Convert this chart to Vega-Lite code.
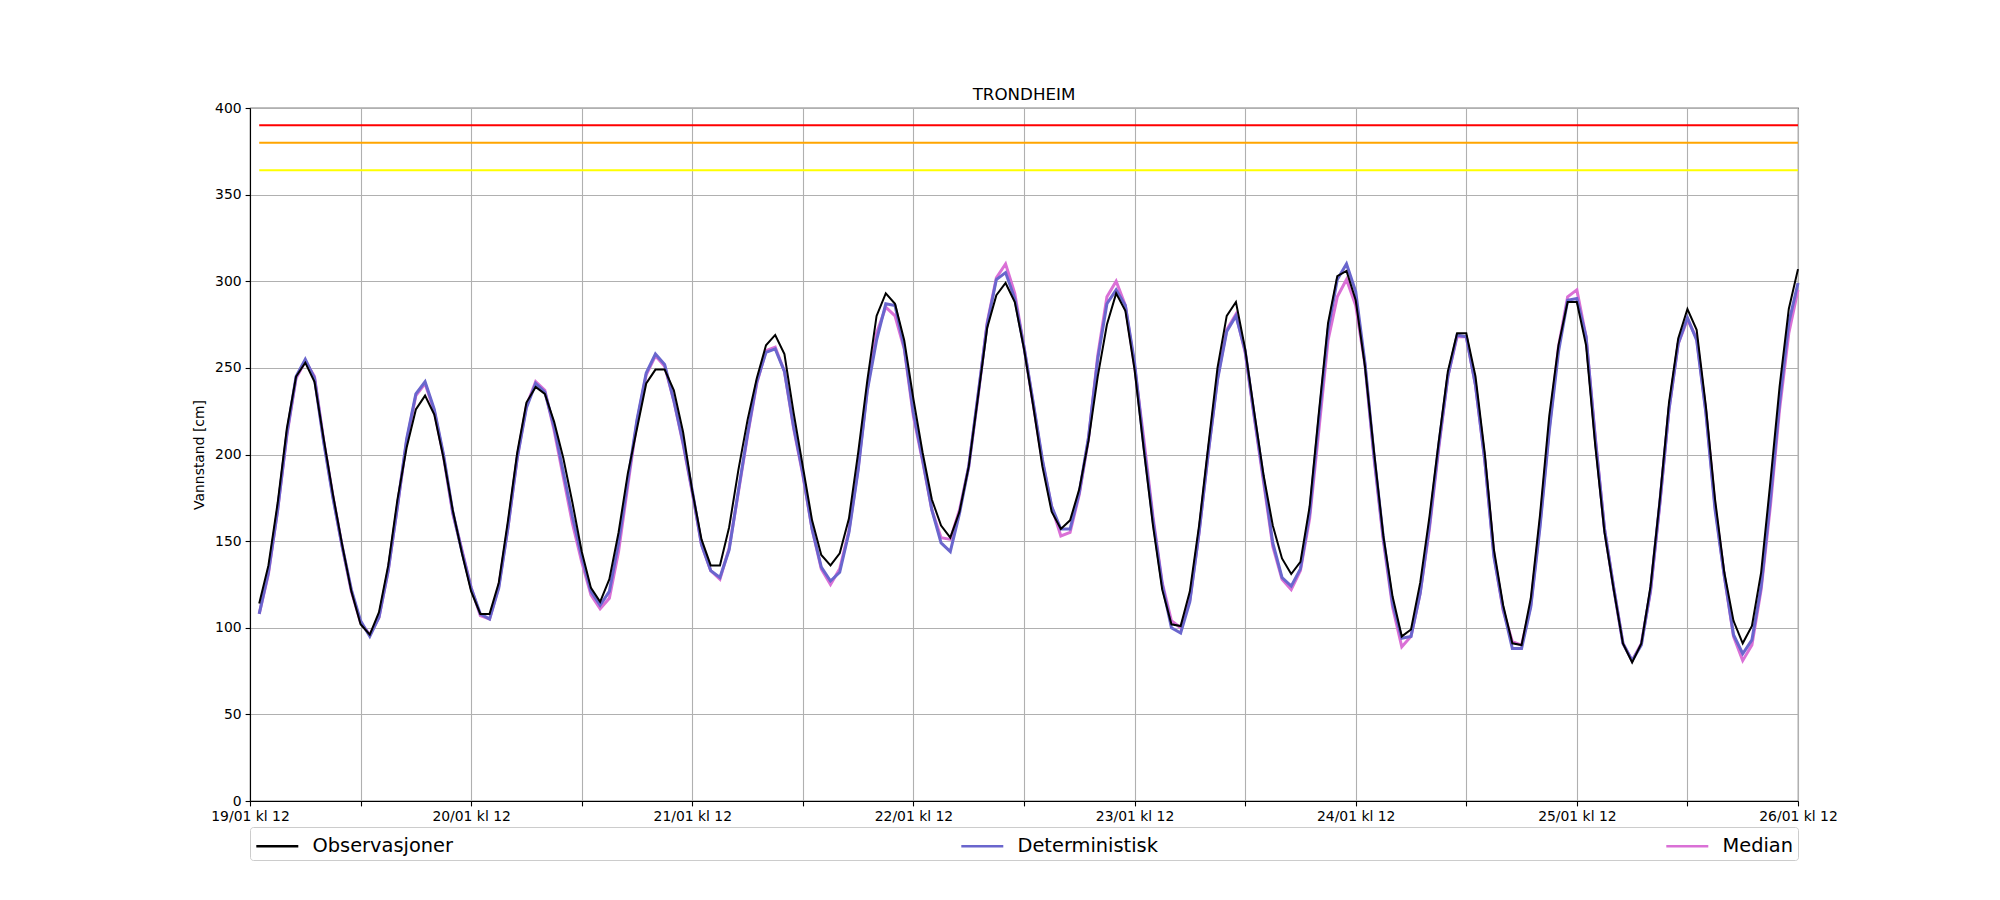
{
  "$schema": "https://vega.github.io/schema/vega-lite/v6.json",
  "width": 1548,
  "height": 693,
  "autosize": {"type": "none"},
  "padding": {"left": 250, "top": 108, "right": 202, "bottom": 99},
  "background": "white",
  "title": {
    "text": "TRONDHEIM",
    "font": "DejaVu Sans",
    "fontSize": 16.7,
    "fontWeight": "normal",
    "color": "black",
    "anchor": "middle",
    "offset": -3
  },
  "config": {
    "view": {"stroke": "black", "strokeWidth": 1.1},
    "axis": {
      "labelFont": "DejaVu Sans",
      "labelFontSize": 13.9,
      "labelColor": "black",
      "titleFont": "DejaVu Sans",
      "titleFontSize": 13.9,
      "titleFontWeight": "normal",
      "titleColor": "black",
      "domainColor": "black",
      "domainWidth": 1.1,
      "tickColor": "black",
      "tickWidth": 1.1,
      "tickSize": 4.9,
      "labelPadding": 4,
      "gridColor": "#b0b0b0",
      "gridWidth": 1.1
    }
  },
  "datasets": {
    "vannstand": [
      {"t": "2024-01-19T13:00", "Observasjoner": 114, "Deterministisk": 108, "Median": 108},
      {"t": "2024-01-19T14:00", "Observasjoner": 136, "Deterministisk": 132, "Median": 131},
      {"t": "2024-01-19T15:00", "Observasjoner": 172, "Deterministisk": 168, "Median": 168},
      {"t": "2024-01-19T16:00", "Observasjoner": 215, "Deterministisk": 212, "Median": 211},
      {"t": "2024-01-19T17:00", "Observasjoner": 245, "Deterministisk": 245, "Median": 244},
      {"t": "2024-01-19T18:00", "Observasjoner": 253, "Deterministisk": 255, "Median": 254},
      {"t": "2024-01-19T19:00", "Observasjoner": 242, "Deterministisk": 244, "Median": 245},
      {"t": "2024-01-19T20:00", "Observasjoner": 209, "Deterministisk": 207, "Median": 208},
      {"t": "2024-01-19T21:00", "Observasjoner": 177, "Deterministisk": 175, "Median": 176},
      {"t": "2024-01-19T22:00", "Observasjoner": 148, "Deterministisk": 147, "Median": 147},
      {"t": "2024-01-19T23:00", "Observasjoner": 121, "Deterministisk": 122, "Median": 121},
      {"t": "2024-01-20T00:00", "Observasjoner": 102, "Deterministisk": 104, "Median": 103},
      {"t": "2024-01-20T01:00", "Observasjoner": 96, "Deterministisk": 95, "Median": 96},
      {"t": "2024-01-20T02:00", "Observasjoner": 109, "Deterministisk": 106, "Median": 106},
      {"t": "2024-01-20T03:00", "Observasjoner": 136, "Deterministisk": 133, "Median": 133},
      {"t": "2024-01-20T04:00", "Observasjoner": 174, "Deterministisk": 170, "Median": 170},
      {"t": "2024-01-20T05:00", "Observasjoner": 204, "Deterministisk": 209, "Median": 208},
      {"t": "2024-01-20T06:00", "Observasjoner": 226, "Deterministisk": 235, "Median": 234},
      {"t": "2024-01-20T07:00", "Observasjoner": 234, "Deterministisk": 242, "Median": 241},
      {"t": "2024-01-20T08:00", "Observasjoner": 223, "Deterministisk": 226, "Median": 225},
      {"t": "2024-01-20T09:00", "Observasjoner": 198, "Deterministisk": 200, "Median": 199},
      {"t": "2024-01-20T10:00", "Observasjoner": 168, "Deterministisk": 167, "Median": 166},
      {"t": "2024-01-20T11:00", "Observasjoner": 143, "Deterministisk": 144, "Median": 145},
      {"t": "2024-01-20T12:00", "Observasjoner": 121, "Deterministisk": 123, "Median": 123},
      {"t": "2024-01-20T13:00", "Observasjoner": 108, "Deterministisk": 108, "Median": 107},
      {"t": "2024-01-20T14:00", "Observasjoner": 108, "Deterministisk": 105, "Median": 105},
      {"t": "2024-01-20T15:00", "Observasjoner": 126, "Deterministisk": 123, "Median": 124},
      {"t": "2024-01-20T16:00", "Observasjoner": 162, "Deterministisk": 158, "Median": 158},
      {"t": "2024-01-20T17:00", "Observasjoner": 201, "Deterministisk": 198, "Median": 198},
      {"t": "2024-01-20T18:00", "Observasjoner": 230, "Deterministisk": 227, "Median": 228},
      {"t": "2024-01-20T19:00", "Observasjoner": 239, "Deterministisk": 241, "Median": 242},
      {"t": "2024-01-20T20:00", "Observasjoner": 235, "Deterministisk": 236, "Median": 237},
      {"t": "2024-01-20T21:00", "Observasjoner": 219, "Deterministisk": 216, "Median": 214},
      {"t": "2024-01-20T22:00", "Observasjoner": 198, "Deterministisk": 190, "Median": 187},
      {"t": "2024-01-20T23:00", "Observasjoner": 172, "Deterministisk": 164, "Median": 160},
      {"t": "2024-01-21T00:00", "Observasjoner": 144, "Deterministisk": 141, "Median": 138},
      {"t": "2024-01-21T01:00", "Observasjoner": 123, "Deterministisk": 121, "Median": 119},
      {"t": "2024-01-21T02:00", "Observasjoner": 115, "Deterministisk": 113, "Median": 111},
      {"t": "2024-01-21T03:00", "Observasjoner": 128, "Deterministisk": 121, "Median": 117},
      {"t": "2024-01-21T04:00", "Observasjoner": 155, "Deterministisk": 149, "Median": 144},
      {"t": "2024-01-21T05:00", "Observasjoner": 189, "Deterministisk": 185, "Median": 182},
      {"t": "2024-01-21T06:00", "Observasjoner": 215, "Deterministisk": 220, "Median": 219},
      {"t": "2024-01-21T07:00", "Observasjoner": 241, "Deterministisk": 247, "Median": 246},
      {"t": "2024-01-21T08:00", "Observasjoner": 249, "Deterministisk": 258, "Median": 257},
      {"t": "2024-01-21T09:00", "Observasjoner": 249, "Deterministisk": 252, "Median": 251},
      {"t": "2024-01-21T10:00", "Observasjoner": 237, "Deterministisk": 231, "Median": 231},
      {"t": "2024-01-21T11:00", "Observasjoner": 213, "Deterministisk": 207, "Median": 206},
      {"t": "2024-01-21T12:00", "Observasjoner": 179, "Deterministisk": 179, "Median": 178},
      {"t": "2024-01-21T13:00", "Observasjoner": 151, "Deterministisk": 148, "Median": 148},
      {"t": "2024-01-21T14:00", "Observasjoner": 136, "Deterministisk": 133, "Median": 133},
      {"t": "2024-01-21T15:00", "Observasjoner": 136, "Deterministisk": 129, "Median": 128},
      {"t": "2024-01-21T16:00", "Observasjoner": 158, "Deterministisk": 145, "Median": 146},
      {"t": "2024-01-21T17:00", "Observasjoner": 191, "Deterministisk": 179, "Median": 178},
      {"t": "2024-01-21T18:00", "Observasjoner": 220, "Deterministisk": 212, "Median": 211},
      {"t": "2024-01-21T19:00", "Observasjoner": 244, "Deterministisk": 242, "Median": 241},
      {"t": "2024-01-21T20:00", "Observasjoner": 263, "Deterministisk": 259, "Median": 260},
      {"t": "2024-01-21T21:00", "Observasjoner": 269, "Deterministisk": 261, "Median": 262},
      {"t": "2024-01-21T22:00", "Observasjoner": 258, "Deterministisk": 248, "Median": 248},
      {"t": "2024-01-21T23:00", "Observasjoner": 224, "Deterministisk": 216, "Median": 215},
      {"t": "2024-01-22T00:00", "Observasjoner": 193, "Deterministisk": 189, "Median": 188},
      {"t": "2024-01-22T01:00", "Observasjoner": 162, "Deterministisk": 157, "Median": 157},
      {"t": "2024-01-22T02:00", "Observasjoner": 142, "Deterministisk": 135, "Median": 134},
      {"t": "2024-01-22T03:00", "Observasjoner": 136, "Deterministisk": 127, "Median": 125},
      {"t": "2024-01-22T04:00", "Observasjoner": 143, "Deterministisk": 132, "Median": 134},
      {"t": "2024-01-22T05:00", "Observasjoner": 163, "Deterministisk": 155, "Median": 156},
      {"t": "2024-01-22T06:00", "Observasjoner": 201, "Deterministisk": 191, "Median": 192},
      {"t": "2024-01-22T07:00", "Observasjoner": 243, "Deterministisk": 237, "Median": 238},
      {"t": "2024-01-22T08:00", "Observasjoner": 280, "Deterministisk": 266, "Median": 270},
      {"t": "2024-01-22T09:00", "Observasjoner": 293, "Deterministisk": 287, "Median": 285},
      {"t": "2024-01-22T10:00", "Observasjoner": 287, "Deterministisk": 286, "Median": 280},
      {"t": "2024-01-22T11:00", "Observasjoner": 266, "Deterministisk": 262, "Median": 261},
      {"t": "2024-01-22T12:00", "Observasjoner": 232, "Deterministisk": 224, "Median": 222},
      {"t": "2024-01-22T13:00", "Observasjoner": 201, "Deterministisk": 197, "Median": 196},
      {"t": "2024-01-22T14:00", "Observasjoner": 174, "Deterministisk": 168, "Median": 168},
      {"t": "2024-01-22T15:00", "Observasjoner": 159, "Deterministisk": 149, "Median": 152},
      {"t": "2024-01-22T16:00", "Observasjoner": 152, "Deterministisk": 144, "Median": 151},
      {"t": "2024-01-22T17:00", "Observasjoner": 167, "Deterministisk": 166, "Median": 168},
      {"t": "2024-01-22T18:00", "Observasjoner": 193, "Deterministisk": 193, "Median": 193},
      {"t": "2024-01-22T19:00", "Observasjoner": 233, "Deterministisk": 234, "Median": 233},
      {"t": "2024-01-22T20:00", "Observasjoner": 273, "Deterministisk": 275, "Median": 276},
      {"t": "2024-01-22T21:00", "Observasjoner": 292, "Deterministisk": 301, "Median": 302},
      {"t": "2024-01-22T22:00", "Observasjoner": 299, "Deterministisk": 305, "Median": 310},
      {"t": "2024-01-22T23:00", "Observasjoner": 288, "Deterministisk": 290, "Median": 293},
      {"t": "2024-01-23T00:00", "Observasjoner": 261, "Deterministisk": 262, "Median": 262},
      {"t": "2024-01-23T01:00", "Observasjoner": 228, "Deterministisk": 230, "Median": 229},
      {"t": "2024-01-23T02:00", "Observasjoner": 193, "Deterministisk": 197, "Median": 196},
      {"t": "2024-01-23T03:00", "Observasjoner": 167, "Deterministisk": 170, "Median": 170},
      {"t": "2024-01-23T04:00", "Observasjoner": 157, "Deterministisk": 157, "Median": 153},
      {"t": "2024-01-23T05:00", "Observasjoner": 162, "Deterministisk": 157, "Median": 155},
      {"t": "2024-01-23T06:00", "Observasjoner": 180, "Deterministisk": 178, "Median": 177},
      {"t": "2024-01-23T07:00", "Observasjoner": 208, "Deterministisk": 210, "Median": 209},
      {"t": "2024-01-23T08:00", "Observasjoner": 245, "Deterministisk": 255, "Median": 257},
      {"t": "2024-01-23T09:00", "Observasjoner": 275, "Deterministisk": 287, "Median": 291},
      {"t": "2024-01-23T10:00", "Observasjoner": 293, "Deterministisk": 295, "Median": 300},
      {"t": "2024-01-23T11:00", "Observasjoner": 283, "Deterministisk": 286, "Median": 286},
      {"t": "2024-01-23T12:00", "Observasjoner": 249, "Deterministisk": 253, "Median": 251},
      {"t": "2024-01-23T13:00", "Observasjoner": 203, "Deterministisk": 205, "Median": 209},
      {"t": "2024-01-23T14:00", "Observasjoner": 159, "Deterministisk": 162, "Median": 164},
      {"t": "2024-01-23T15:00", "Observasjoner": 122, "Deterministisk": 125, "Median": 126},
      {"t": "2024-01-23T16:00", "Observasjoner": 102, "Deterministisk": 100, "Median": 104},
      {"t": "2024-01-23T17:00", "Observasjoner": 101, "Deterministisk": 97, "Median": 100},
      {"t": "2024-01-23T18:00", "Observasjoner": 121, "Deterministisk": 115, "Median": 116},
      {"t": "2024-01-23T19:00", "Observasjoner": 159, "Deterministisk": 155, "Median": 155},
      {"t": "2024-01-23T20:00", "Observasjoner": 205, "Deterministisk": 201, "Median": 201},
      {"t": "2024-01-23T21:00", "Observasjoner": 250, "Deterministisk": 243, "Median": 244},
      {"t": "2024-01-23T22:00", "Observasjoner": 280, "Deterministisk": 271, "Median": 272},
      {"t": "2024-01-23T23:00", "Observasjoner": 288, "Deterministisk": 280, "Median": 281},
      {"t": "2024-01-24T00:00", "Observasjoner": 261, "Deterministisk": 260, "Median": 259},
      {"t": "2024-01-24T01:00", "Observasjoner": 224, "Deterministisk": 222, "Median": 221},
      {"t": "2024-01-24T02:00", "Observasjoner": 188, "Deterministisk": 186, "Median": 184},
      {"t": "2024-01-24T03:00", "Observasjoner": 159, "Deterministisk": 149, "Median": 147},
      {"t": "2024-01-24T04:00", "Observasjoner": 140, "Deterministisk": 129, "Median": 128},
      {"t": "2024-01-24T05:00", "Observasjoner": 131, "Deterministisk": 124, "Median": 122},
      {"t": "2024-01-24T06:00", "Observasjoner": 138, "Deterministisk": 134, "Median": 133},
      {"t": "2024-01-24T07:00", "Observasjoner": 170, "Deterministisk": 166, "Median": 163},
      {"t": "2024-01-24T08:00", "Observasjoner": 224, "Deterministisk": 220, "Median": 214},
      {"t": "2024-01-24T09:00", "Observasjoner": 276, "Deterministisk": 272, "Median": 266},
      {"t": "2024-01-24T10:00", "Observasjoner": 303, "Deterministisk": 301, "Median": 291},
      {"t": "2024-01-24T11:00", "Observasjoner": 306, "Deterministisk": 310, "Median": 301},
      {"t": "2024-01-24T12:00", "Observasjoner": 289, "Deterministisk": 294, "Median": 286},
      {"t": "2024-01-24T13:00", "Observasjoner": 251, "Deterministisk": 253, "Median": 252},
      {"t": "2024-01-24T14:00", "Observasjoner": 201, "Deterministisk": 199, "Median": 197},
      {"t": "2024-01-24T15:00", "Observasjoner": 153, "Deterministisk": 152, "Median": 150},
      {"t": "2024-01-24T16:00", "Observasjoner": 118, "Deterministisk": 114, "Median": 112},
      {"t": "2024-01-24T17:00", "Observasjoner": 95, "Deterministisk": 94, "Median": 89},
      {"t": "2024-01-24T18:00", "Observasjoner": 99, "Deterministisk": 95, "Median": 95},
      {"t": "2024-01-24T19:00", "Observasjoner": 126, "Deterministisk": 120, "Median": 120},
      {"t": "2024-01-24T20:00", "Observasjoner": 164, "Deterministisk": 159, "Median": 157},
      {"t": "2024-01-24T21:00", "Observasjoner": 207, "Deterministisk": 205, "Median": 203},
      {"t": "2024-01-24T22:00", "Observasjoner": 248, "Deterministisk": 245, "Median": 245},
      {"t": "2024-01-24T23:00", "Observasjoner": 270, "Deterministisk": 269, "Median": 268},
      {"t": "2024-01-25T00:00", "Observasjoner": 270, "Deterministisk": 268, "Median": 268},
      {"t": "2024-01-25T01:00", "Observasjoner": 245, "Deterministisk": 240, "Median": 240},
      {"t": "2024-01-25T02:00", "Observasjoner": 201, "Deterministisk": 197, "Median": 197},
      {"t": "2024-01-25T03:00", "Observasjoner": 145, "Deterministisk": 141, "Median": 142},
      {"t": "2024-01-25T04:00", "Observasjoner": 113, "Deterministisk": 111, "Median": 110},
      {"t": "2024-01-25T05:00", "Observasjoner": 91, "Deterministisk": 88, "Median": 92},
      {"t": "2024-01-25T06:00", "Observasjoner": 90, "Deterministisk": 88, "Median": 90},
      {"t": "2024-01-25T07:00", "Observasjoner": 117, "Deterministisk": 112, "Median": 113},
      {"t": "2024-01-25T08:00", "Observasjoner": 165, "Deterministisk": 158, "Median": 160},
      {"t": "2024-01-25T09:00", "Observasjoner": 222, "Deterministisk": 213, "Median": 215},
      {"t": "2024-01-25T10:00", "Observasjoner": 263, "Deterministisk": 259, "Median": 262},
      {"t": "2024-01-25T11:00", "Observasjoner": 288, "Deterministisk": 289, "Median": 291},
      {"t": "2024-01-25T12:00", "Observasjoner": 288, "Deterministisk": 290, "Median": 295},
      {"t": "2024-01-25T13:00", "Observasjoner": 263, "Deterministisk": 268, "Median": 268},
      {"t": "2024-01-25T14:00", "Observasjoner": 205, "Deterministisk": 209, "Median": 210},
      {"t": "2024-01-25T15:00", "Observasjoner": 155, "Deterministisk": 157, "Median": 157},
      {"t": "2024-01-25T16:00", "Observasjoner": 122, "Deterministisk": 123, "Median": 123},
      {"t": "2024-01-25T17:00", "Observasjoner": 91, "Deterministisk": 91, "Median": 91},
      {"t": "2024-01-25T18:00", "Observasjoner": 80, "Deterministisk": 81, "Median": 81},
      {"t": "2024-01-25T19:00", "Observasjoner": 91, "Deterministisk": 90, "Median": 91},
      {"t": "2024-01-25T20:00", "Observasjoner": 124, "Deterministisk": 122, "Median": 121},
      {"t": "2024-01-25T21:00", "Observasjoner": 174, "Deterministisk": 172, "Median": 171},
      {"t": "2024-01-25T22:00", "Observasjoner": 230, "Deterministisk": 226, "Median": 226},
      {"t": "2024-01-25T23:00", "Observasjoner": 267, "Deterministisk": 264, "Median": 264},
      {"t": "2024-01-26T00:00", "Observasjoner": 284, "Deterministisk": 279, "Median": 278},
      {"t": "2024-01-26T01:00", "Observasjoner": 272, "Deterministisk": 266, "Median": 267},
      {"t": "2024-01-26T02:00", "Observasjoner": 228, "Deterministisk": 224, "Median": 225},
      {"t": "2024-01-26T03:00", "Observasjoner": 174, "Deterministisk": 168, "Median": 170},
      {"t": "2024-01-26T04:00", "Observasjoner": 132, "Deterministisk": 130, "Median": 130},
      {"t": "2024-01-26T05:00", "Observasjoner": 104, "Deterministisk": 96, "Median": 95},
      {"t": "2024-01-26T06:00", "Observasjoner": 91, "Deterministisk": 85, "Median": 81},
      {"t": "2024-01-26T07:00", "Observasjoner": 101, "Deterministisk": 93, "Median": 90},
      {"t": "2024-01-26T08:00", "Observasjoner": 132, "Deterministisk": 124, "Median": 122},
      {"t": "2024-01-26T09:00", "Observasjoner": 184, "Deterministisk": 174, "Median": 170},
      {"t": "2024-01-26T10:00", "Observasjoner": 239, "Deterministisk": 230, "Median": 226},
      {"t": "2024-01-26T11:00", "Observasjoner": 284, "Deterministisk": 276, "Median": 270},
      {"t": "2024-01-26T12:00", "Observasjoner": 307, "Deterministisk": 299, "Median": 295}
    ],
    "nivaa": [
      {"nivaa": "rødt", "cm": 390, "fra": "2024-01-19T13:00", "til": "2024-01-26T12:00"},
      {"nivaa": "oransje", "cm": 380, "fra": "2024-01-19T13:00", "til": "2024-01-26T12:00"},
      {"nivaa": "gult", "cm": 364, "fra": "2024-01-19T13:00", "til": "2024-01-26T12:00"}
    ]
  },
  "layer": [
    {
      "data": {"name": "nivaa"},
      "mark": {"type": "rule", "strokeWidth": 2},
      "encoding": {
        "x": {"field": "fra", "type": "temporal"},
        "x2": {"field": "til"},
        "y": {"field": "cm", "type": "quantitative"},
        "stroke": {
          "field": "nivaa",
          "type": "nominal",
          "scale": {"domain": ["rødt", "oransje", "gult"], "range": ["#ff0000", "#ffa500", "#ffff00"]},
          "legend": null
        }
      }
    },
    {
      "data": {"name": "vannstand"},
      "transform": [
        {"fold": ["Median", "Deterministisk", "Observasjoner"], "as": ["serie", "verdi"]}
      ],
      "mark": {"type": "line"},
      "encoding": {
        "x": {
          "field": "t",
          "type": "temporal",
          "title": null,
          "scale": {
            "domain": [
              {"year": 2024, "month": 1, "date": 19, "hours": 12},
              {"year": 2024, "month": 1, "date": 26, "hours": 12}
            ],
            "nice": false
          },
          "axis": {
            "values": [
              {"year": 2024, "month": 1, "date": 19, "hours": 12},
              {"year": 2024, "month": 1, "date": 20, "hours": 0},
              {"year": 2024, "month": 1, "date": 20, "hours": 12},
              {"year": 2024, "month": 1, "date": 21, "hours": 0},
              {"year": 2024, "month": 1, "date": 21, "hours": 12},
              {"year": 2024, "month": 1, "date": 22, "hours": 0},
              {"year": 2024, "month": 1, "date": 22, "hours": 12},
              {"year": 2024, "month": 1, "date": 23, "hours": 0},
              {"year": 2024, "month": 1, "date": 23, "hours": 12},
              {"year": 2024, "month": 1, "date": 24, "hours": 0},
              {"year": 2024, "month": 1, "date": 24, "hours": 12},
              {"year": 2024, "month": 1, "date": 25, "hours": 0},
              {"year": 2024, "month": 1, "date": 25, "hours": 12},
              {"year": 2024, "month": 1, "date": 26, "hours": 0},
              {"year": 2024, "month": 1, "date": 26, "hours": 12}
            ],
            "labelExpr": "hours(datum.value) == 12 ? timeFormat(datum.value, '%d/%m kl %H') : ''",
            "labelFlush": false,
            "labelOverlap": false,
            "labelBound": false,
            "grid": true
          }
        },
        "y": {
          "field": "verdi",
          "type": "quantitative",
          "title": "Vannstand [cm]",
          "scale": {"domain": [0, 400], "nice": false},
          "axis": {"values": [0, 50, 100, 150, 200, 250, 300, 350, 400], "titlePadding": 8}
        },
        "color": {
          "field": "serie",
          "type": "nominal",
          "scale": {
            "domain": ["Observasjoner", "Deterministisk", "Median"],
            "range": ["#000000", "#6a66cd", "#da70d6"]
          },
          "legend": {
            "title": null,
            "orient": "bottom",
            "direction": "horizontal",
            "columns": 3,
            "columnPadding": 503,
            "symbolType": "M-0.94,0H2.17",
            "symbolSize": 729,
            "symbolStrokeWidth": 2.5,
            "labelFont": "DejaVu Sans",
            "labelFontSize": 19.4,
            "labelColor": "black",
            "labelOffset": 28.5,
            "padding": 4,
            "offset": 3,
            "strokeColor": "#cccccc",
            "fillColor": "white",
            "cornerRadius": 3
          }
        },
        "strokeWidth": {
          "condition": {"test": "datum.serie == 'Observasjoner'", "value": 2},
          "value": 3
        }
      }
    }
  ]
}
